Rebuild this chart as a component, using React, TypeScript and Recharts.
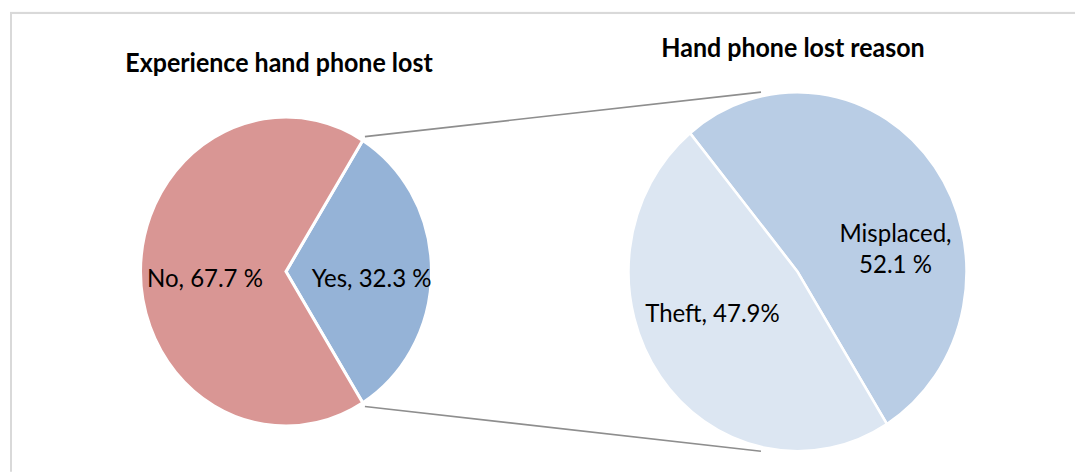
import { Cell, Customized, Pie, PieChart } from 'recharts';

// left pie: did people lose a phone
const lostCategories = ['Yes', 'No'];
const lostValues = [32.3, 67.7];
const lostLabels = [['Yes, 32.3 %'], ['No, 67.7 %']];

// right pie: why it was lost
const reasonCategories = ['Misplaced', 'Theft'];
const reasonValues = [52.1, 47.9];
const reasonLabels = [['Misplaced,', '52.1 %'], ['Theft, 47.9%']];

const titles = ['Experience hand phone lost', 'Hand phone lost reason'];

const lostData = lostCategories.map((name, i) => ({ name, value: lostValues[i] }));
const reasonData = reasonCategories.map((name, i) => ({ name, value: reasonValues[i] }));

const COLOR = {
  yes: '#95B3D7',
  no: '#D99694',
  misplaced: '#B9CDE5',
  theft: '#DCE6F2',
  border: '#D9D9D9',
  connector: '#8E8E8E',
  text: '#000000',
};

const FONT = 'Lato, "Open Sans", sans-serif';
const WIDTH = 1075;
const HEIGHT = 444;
const STRETCH = 1.0625;

const LEFT = { cx: 286, cy: 255.6, r: 145.5 };
const RIGHT = { cx: 797.5, cy: 255.7, r: 169 };

// label anchor as fraction of radius from the pie centre
const lostLabelPos = [
  { fx: 0.588, fy: 0.1 },
  { fx: -0.557, fy: 0.1 },
];
const reasonLabelPos = [
  { fx: 0.58, fy: -0.167 },
  { fx: -0.503, fy: 0.279 },
];

const lostTotal = lostValues.reduce((a, b) => a + b, 0);
const yesHalfAngle = (lostValues[0] / lostTotal) * 180;
const reasonStart = 129.5;

function makeLabel(lines: string[][], pos: { fx: number; fy: number }[]) {
  return function SliceLabel(props: any) {
    const { cx, cy, outerRadius, index } = props;
    const p = pos[index];
    const x = cx + p.fx * outerRadius;
    const y = cy + p.fy * outerRadius;
    return (
      <text
        x={x}
        y={y}
        textAnchor="middle"
        fontFamily={FONT}
        fontSize={24}
        fill={COLOR.text}
      >
        {lines[index].map((line, i) => (
          <tspan key={line} x={x} dy={i === 0 ? 0 : 29.5}>
            {line}
          </tspan>
        ))}
      </text>
    );
  };
}

function Decorations() {
  const a = (yesHalfAngle * Math.PI) / 180;
  const lx = LEFT.cx + (LEFT.r + 4) * Math.cos(a);
  const ly = (LEFT.r + 4) * Math.sin(a);
  const rx = RIGHT.cx - 0.216 * RIGHT.r;
  return (
    <g>
      <rect
        x={11}
        y={12.2}
        width={1200}
        height={600}
        fill="none"
        stroke={COLOR.border}
        strokeWidth={2}
      />
      <line x1={lx} y1={LEFT.cy - ly} x2={rx} y2={RIGHT.cy - RIGHT.r} stroke={COLOR.connector} strokeWidth={1.5} />
      <line x1={lx} y1={LEFT.cy + ly} x2={rx} y2={RIGHT.cy + RIGHT.r} stroke={COLOR.connector} strokeWidth={1.5} />
      <text x={279} y={67.8} textAnchor="middle" fontFamily={FONT} fontWeight="bold" fontSize={25} fill={COLOR.text}>
        {titles[0]}
      </text>
      <text x={793} y={54} textAnchor="middle" fontFamily={FONT} fontWeight="bold" fontSize={25} fill={COLOR.text}>
        {titles[1]}
      </text>
    </g>
  );
}

export default function App() {
  return (
    <div
      style={{
        position: 'absolute',
        left: 0,
        top: 0,
        width: WIDTH,
        height: HEIGHT,
        background: '#fff',
        transform: `scaleY(${STRETCH})`,
        transformOrigin: '0 0',
      }}
    >
      <PieChart width={WIDTH} height={HEIGHT} margin={{ top: 0, right: 0, bottom: 0, left: 0 }}>
        <Customized component={<Decorations />} />
        <Pie
          data={lostData}
          dataKey="value"
          nameKey="name"
          cx={LEFT.cx}
          cy={LEFT.cy}
          outerRadius={LEFT.r}
          startAngle={yesHalfAngle}
          endAngle={yesHalfAngle - 360}
          stroke="#fff"
          strokeWidth={3}
          labelLine={false}
          label={makeLabel(lostLabels, lostLabelPos)}
          isAnimationActive={false}
        >
          <Cell fill={COLOR.yes} />
          <Cell fill={COLOR.no} />
        </Pie>
        <Pie
          data={reasonData}
          dataKey="value"
          nameKey="name"
          cx={RIGHT.cx}
          cy={RIGHT.cy}
          outerRadius={RIGHT.r}
          startAngle={reasonStart}
          endAngle={reasonStart - 360}
          stroke="#fff"
          strokeWidth={2.5}
          labelLine={false}
          label={makeLabel(reasonLabels, reasonLabelPos)}
          isAnimationActive={false}
        >
          <Cell fill={COLOR.misplaced} />
          <Cell fill={COLOR.theft} />
        </Pie>
      </PieChart>
    </div>
  );
}
